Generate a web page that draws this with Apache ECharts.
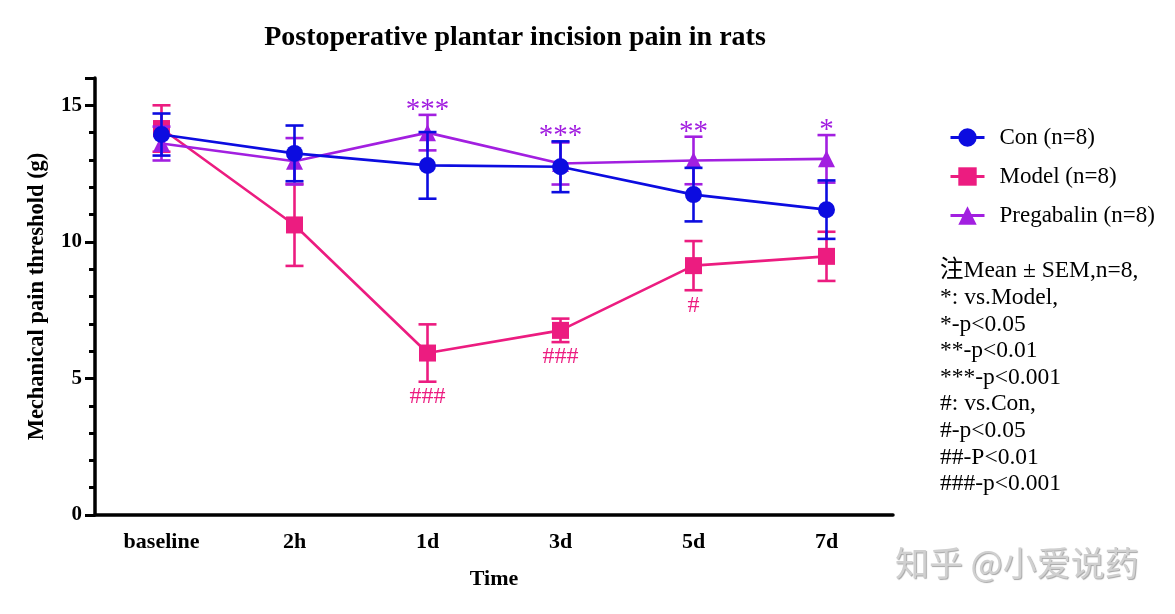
<!DOCTYPE html>
<html><head><meta charset="utf-8">
<script src="https://cdn.jsdelivr.net/npm/echarts@6/dist/echarts.min.js"></script>
<style>html,body{margin:0;padding:0;background:#fff}#c{width:1175px;height:614px}</style>
</head><body><div id="c"></div>
<script>
var categories = ['baseline', '2h', '1d', '3d', '5d', '7d'];
var conMean = [13.93, 13.24, 12.80, 12.75, 11.73, 11.18];
var conSem  = [0.77, 1.02, 1.22, 0.93, 0.98, 1.07];
var modelMean = [14.15, 10.62, 5.93, 6.76, 9.13, 9.47];
var modelSem  = [0.85, 1.50, 1.05, 0.43, 0.90, 0.90];
var pregMean = [13.60, 12.95, 14.00, 12.87, 12.98, 13.04];
var pregSem  = [0.62, 0.85, 0.65, 0.77, 0.87, 0.87];
var starLabels = ['', '', '***', '***', '**', '*'];
var hashLabels = ['', '', '###', '###', '#', ''];
var yTicks = [0, 5, 10, 15];
var noteLines = ['注Mean ± SEM,n=8,', '*: vs.Model,', '*-p<0.05', '**-p<0.01', '***-p<0.001', '#: vs.Con,', '#-p<0.05', '##-P<0.01', '###-p<0.001'];

var C_CON = '#0C0CE0', C_MODEL = '#EC1C80', C_PREG = '#A21FE0';
var SERIF = '"Liberation Serif", "Times New Roman", "Noto Sans CJK SC", serif';

function errData(m, s) { return m.map(function (v, i) { return [i, v - s[i], v + s[i]]; }); }
function errSeries(m, s, color, z) {
  return {
    type: 'custom', z: z, silent: true,
    itemStyle: { color: color },
    data: errData(m, s),
    encode: { x: 0, y: [1, 2] },
    renderItem: function (params, api) {
      var lo = api.coord([api.value(0), api.value(1)]);
      var hi = api.coord([api.value(0), api.value(2)]);
      var w = 9;
      var st = { stroke: color, lineWidth: 2.6 };
      return { type: 'group', children: [
        { type: 'line', shape: { x1: lo[0], y1: lo[1], x2: hi[0], y2: hi[1] }, style: st },
        { type: 'line', shape: { x1: lo[0] - w, y1: lo[1], x2: lo[0] + w, y2: lo[1] }, style: st },
        { type: 'line', shape: { x1: hi[0] - w, y1: hi[1], x2: hi[0] + w, y2: hi[1] }, style: st }
      ] };
    }
  };
}
function textSeries(labels, yvals, color, above, size) {
  return {
    type: 'custom', silent: true, z: 10,
    data: yvals.map(function (v, i) { return [i, v]; }),
    encode: { x: 0, y: 1 },
    renderItem: function (params, api) {
      var t = labels[params.dataIndex];
      if (!t) return null;
      var p = api.coord([api.value(0), api.value(1)]);
      return { type: 'text', x: p[0], y: above ? p[1] + 10 : p[1] + 3,
        style: { text: t, fill: color, font: size + 'px ' + SERIF, textAlign: 'center', textVerticalAlign: above ? 'bottom' : 'top' } };
    }
  };
}
var starY = pregMean.map(function (v, i) { return Math.max(v + pregSem[i], conMean[i] + conSem[i]); });
var hashY = modelMean.map(function (v, i) { return v - modelSem[i]; });

var chart = echarts.init(document.getElementById('c'));
chart.setOption({
  animation: false,
  backgroundColor: '#fff',
  title: { text: 'Postoperative plantar incision pain in rats', left: 510, top: 19, textAlign: 'center',
    textStyle: { fontFamily: SERIF, fontSize: 28, fontWeight: 'bold', color: '#000' } },
  grid: { left: 95, right: 282, top: 78, bottom: 99 },
  legend: {
    orient: 'vertical', left: 944, top: 121, itemWidth: 34, itemHeight: 23, itemGap: 16,
    data: ['Con (n=8)', 'Model (n=8)', 'Pregabalin (n=8)'],
    lineStyle: { width: 3 },
    textStyle: { fontFamily: SERIF, fontSize: 23, color: '#000', padding: [0, 0, 0, 10] }
  },
  xAxis: {
    type: 'category', data: categories, boundaryGap: true,
    name: 'Time', nameLocation: 'middle', nameGap: 53,
    nameTextStyle: { fontFamily: SERIF, fontSize: 22, fontWeight: 'bold', color: '#000' },
    axisLine: { lineStyle: { color: '#000', width: 3.5 } },
    axisTick: { alignWithLabel: true, length: 9, lineStyle: { width: 3, color: '#000' } },
    axisLabel: { margin: 16, fontFamily: SERIF, fontSize: 22, fontWeight: 'bold', color: '#000' },
    splitLine: { show: false }
  },
  yAxis: {
    type: 'value', min: 0, max: 16, interval: 5,
    name: 'Mechanical pain threshold (g)', nameLocation: 'middle', nameGap: 47, nameRotate: 90,
    nameTextStyle: { fontFamily: SERIF, fontSize: 22.5, fontWeight: 'bold', color: '#000' },
    axisLine: { show: true, lineStyle: { color: '#000', width: 3.5 } },
    axisTick: { show: true, length: 10, lineStyle: { width: 3, color: '#000' } },
    minorTick: { show: true, splitNumber: 5, length: 6, lineStyle: { width: 3, color: '#000' } },
    axisLabel: { margin: 13, fontFamily: SERIF, fontSize: 21, fontWeight: 'bold', color: '#000',
      formatter: function (v) { return yTicks.indexOf(v) >= 0 ? String(v) : ''; } },
    splitLine: { show: false }
  },
  series: [
    errSeries(modelMean, modelSem, C_MODEL, 2),
    { type: 'line', name: 'Model (n=8)', data: modelMean, z: 3, symbol: 'rect', symbolSize: 17,
      itemStyle: { color: C_MODEL }, lineStyle: { color: C_MODEL, width: 2.6 } },
    errSeries(pregMean, pregSem, C_PREG, 4),
    { type: 'line', name: 'Pregabalin (n=8)', data: pregMean, z: 5, symbol: 'triangle', symbolSize: 17,
      itemStyle: { color: C_PREG }, lineStyle: { color: C_PREG, width: 2.6 } },
    errSeries(conMean, conSem, C_CON, 6),
    { type: 'line', name: 'Con (n=8)', data: conMean, z: 7, symbol: 'circle', symbolSize: 17,
      itemStyle: { color: C_CON }, lineStyle: { color: C_CON, width: 2.6 } },
    textSeries(starLabels, starY, C_PREG, true, 29),
    textSeries(hashLabels, hashY, C_MODEL, false, 24)
  ],
  graphic: [
    { type: 'text', left: 940, top: 258, style: { text: noteLines.join('\n'), font: '23.5px ' + SERIF, lineHeight: 26.6, fill: '#000' } },
    { type: 'text', left: 895, top: 546, style: { text: '知乎 @小爱说药', font: '34px "Noto Sans CJK SC"', fill: '#d0d0d0',
      textShadowColor: 'rgba(0,0,0,0.35)', textShadowOffsetX: 1, textShadowOffsetY: 1, textShadowBlur: 1 } }
  ]
});
</script></body></html>
